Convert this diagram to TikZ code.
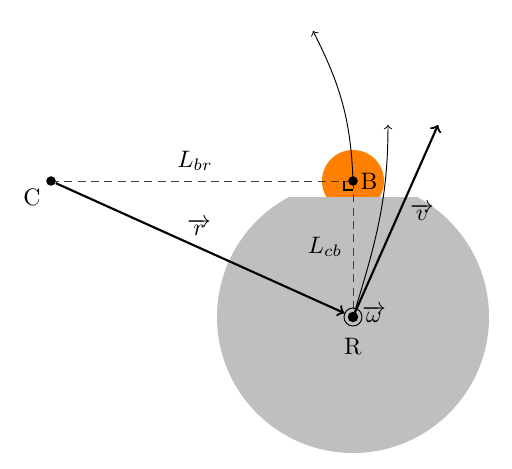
\documentclass[tikz,border=0pt]{standalone}
\usetikzlibrary{calc}
\begin{document}
\begin{tikzpicture}[x=0.42pt,y=0.42pt,
  dotnode/.style={circle,fill=black,inner sep=0pt,minimum size=4pt},
  dashline/.style={dash pattern=on 3.4pt off 2.2pt,black!75},
  vecarrow/.style={line width=0.9pt,->},
  lbl/.style={inner sep=1pt}]
\useasboundingbox (0,0) rectangle (512,469);
\coordinate (R) at (353,152);
\coordinate (B) at (353,288);
\coordinate (C) at (51,288);
\coordinate (t1) at (313,438);
\coordinate (t2) at (388,344);
\coordinate (tv) at (438,344);
% bodies
\fill[orange] (B) circle (31);
\begin{scope}
  \clip (0,0) rectangle (512,271);
  \fill[lightgray] (R) circle (136);
\end{scope}
% dashed
\draw[dashline] (C) -- (B);
\draw[dashline] (B) -- (R);
\draw[semithick] (344,288) -- (344,279) -- (353,279);
% ring
\node[circle,draw,minimum size=18*0.42pt,inner sep=0pt] (ring) at (R) {};
\node[dotnode] (Cd) at (C) {};
\node[dotnode] (Bd) at (B) {};
\node[dotnode,minimum size=4.4pt] (Rd) at (R) {};
% arrows
\draw[vecarrow] (Cd) -- (ring);
\draw[vecarrow] (R) -- (tv);
\draw[->] (B) to[out=92,in=-63] (t1);
\draw[->] (R) to[out=73,in=-90] (t2);
% labels
\node[lbl] (lC) at (32,272) {C};
\node[lbl] (lB) at (369,288) {B};
\node[lbl] (lR) at (353,122) {R};
\node[lbl] (lw) at (374,155) {$\overrightarrow{\omega}$};
\node[lbl] (lbr) at (195,308) {$L_{br}$};
\node[lbl] (lr) at (199,242) {$\overrightarrow{r}$};
\node[lbl] (lcb) at (325,222) {$L_{cb}$};
\node[lbl] (lv) at (422,257) {$\overrightarrow{v}$};
\end{tikzpicture}
\end{document}
